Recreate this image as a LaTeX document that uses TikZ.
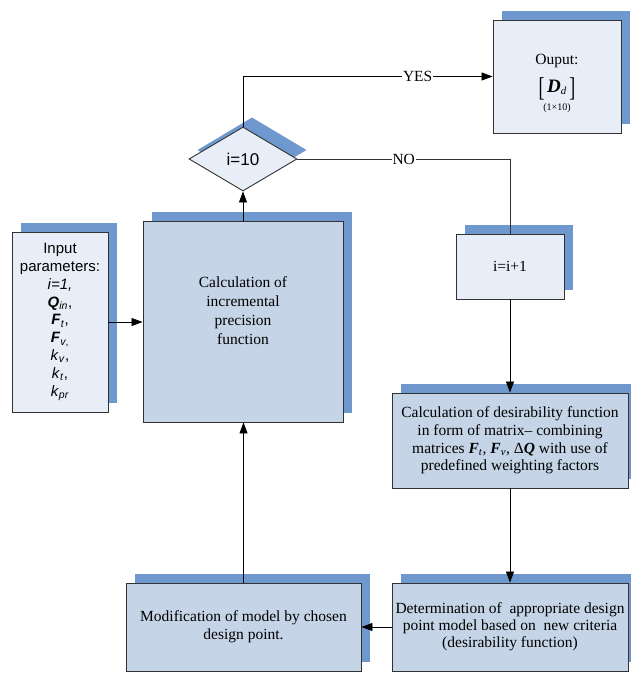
\documentclass[tikz,border=0pt]{standalone}
\usepackage{fontspec}
\setmainfont{Liberation Serif}
\setsansfont{Liberation Sans}
\usetikzlibrary{arrows.meta,shapes.geometric,backgrounds,calc}
\definecolor{shadowc}{RGB}{111,152,207}
\definecolor{lightc}{RGB}{232,238,247}
\definecolor{darkc}{RGB}{197,212,230}
\definecolor{edgec}{RGB}{50,50,50}
\tikzset{
  box/.style={draw=edgec, line width=0.9pt, rectangle, inner sep=0pt, align=center},
  lightbox/.style={box, fill=lightc},
  darkbox/.style={box, fill=darkc},
  arr/.style={draw=black, line width=0.8pt, -{Triangle[length=11pt,width=8pt]}},
  plain/.style={draw=edgec, line width=0.8pt},
  lbl/.style={fill=white, inner sep=1pt, font=\fontsize{15.5}{17}\selectfont}
}
\newcommand{\shadowof}[1]{\fill[shadowc] ($(#1.south west)+(9,-9)$) rectangle ($(#1.north east)+(9,-9)$);}
\newcommand{\tallbr}[1]{\raisebox{-4pt}{\scalebox{1.15}[1.75]{#1}}}
\begin{document}
\begin{tikzpicture}[x=1pt,y=-1pt]
\useasboundingbox (0,0) rectangle (631,675);

% nodes
\node[lightbox, minimum width=96pt, minimum height=180pt,
      font=\sffamily\fontsize{15}{17.9}\selectfont] (inp) at (60,322)
  {Input\\parameters:\\\textit{i=1,}\\\textbf{\textit{Q}}\textsubscript{\textit{in}},\\
   \textbf{\textit{F}}\textsubscript{\textit{t}},\\\textbf{\textit{F}}\textsubscript{\textit{v},}\\
   \textit{k}\textsubscript{\textit{v}},\\\textit{k}\textsubscript{\textit{t}},\\\textit{k}\textsubscript{\textit{pr}}};

\node[darkbox, minimum width=200pt, minimum height=201pt] (calc) at (243,321.5) {};
\node[align=center, inner sep=0pt, font=\fontsize{15.5}{19}\selectfont] (calctext) at (243,311)
  {Calculation of\\incremental\\precision\\function};

\node[lightbox, shape=diamond, minimum width=108pt, minimum height=64pt,
      font=\sffamily\fontsize{17}{20}\selectfont] (dia) at (243,159) {i=10};

\node[lightbox, minimum width=128pt, minimum height=113pt,
      font=\fontsize{15.5}{17}\selectfont] (out) at (557,76.5) {};
\node[align=center, inner sep=0pt, font=\fontsize{15.5}{17}\selectfont] (outtext) at (557,83)
  {Ouput:\\[9pt]
   \tallbr{[}\,{\fontsize{19}{20}\selectfont\textbf{\textit{D}}}\textsubscript{\textit{d}}\,\tallbr{]}\\[1pt]
   {\fontsize{10}{12}\selectfont (1×10)}};

\node[lightbox, minimum width=108pt, minimum height=65pt,
      font=\fontsize{15.5}{17}\selectfont] (inc) at (510,266.5) {i=i+1};

\node[darkbox, minimum width=236pt, minimum height=95pt,
      font=\fontsize{15.5}{17.8}\selectfont] (des) at (510,440.5)
  {Calculation of desirability function\\in form of matrix– combining\\
   matrices \textbf{\textit{F}}\textsubscript{\textit{t}}, \textbf{\textit{F}}\textsubscript{\textit{v}}, Δ\textbf{\textit{Q}} with use of\\
   predefined weighting factors};

\node[darkbox, minimum width=236pt, minimum height=88pt,
      font=\fontsize{15.5}{17}\selectfont] (det) at (510,627)
  {Determination of \ appropriate design\\point model based on \ new criteria\\(desirability function)};

\node[darkbox, minimum width=235pt, minimum height=88pt,
      font=\fontsize{15.5}{18}\selectfont] (mod) at (243.5,627)
  {Modification of model by chosen\\design point.};

% shadows
\begin{scope}[on background layer]
  \shadowof{inp}
  \shadowof{calc}
  \shadowof{out}
  \shadowof{inc}
  \shadowof{des}
  \shadowof{det}
  \shadowof{mod}
  \fill[shadowc] ($(dia.north)+(9,-9)$) -- ($(dia.east)+(9,-9)$) -- ($(dia.south)+(9,-9)$) -- ($(dia.west)+(9,-9)$) -- cycle;
\end{scope}

% connectors
\draw[arr] (inp.east) -- (inp.east -| calc.west);
\draw[arr] (calc.north) -- (dia.south);
\draw[arr] (dia.north) |- node[lbl, pos=0.85] {YES} (out.west);
\draw[plain] (dia.east) -| node[lbl, pos=0.25] {NO} (inc.north);
\draw[arr] (inc.south) -- (des.north);
\draw[arr] (des.south) -- (det.north);
\draw[arr] (det.west) -- (mod.east);
\draw[arr] (mod.north) -- (mod.north |- calc.south);
\end{tikzpicture}
\end{document}
